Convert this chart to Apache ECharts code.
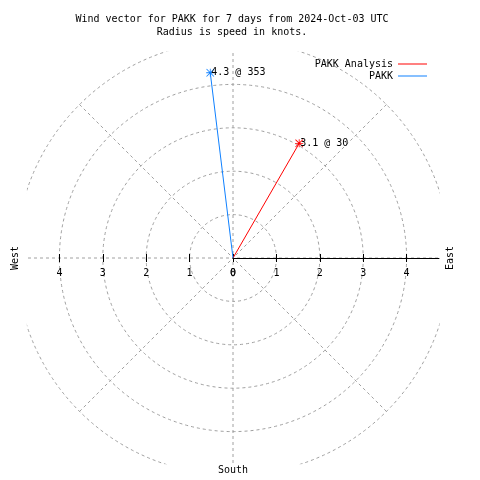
<!DOCTYPE html>
<html>
<head>
<meta charset="utf-8">
<script src="https://cdn.jsdelivr.net/npm/echarts@6/dist/echarts.min.js"></script>
<style>html,body{margin:0;padding:0;background:#fff}#c{width:480px;height:480px}</style>
</head>
<body>
<div id="c"></div>
<script>
// ---- data ----
const seriesNames = ['PAKK Analysis', 'PAKK'];
const speeds = [3.05, 4.3];          // knots
const directions = [30, 353];        // degrees, compass
const pointLabels = ['3.1 @ 30', '4.3 @ 353'];
const tickValues = [0, 1, 2, 3, 4];
const titleLines = ['Wind vector for PAKK for 7 days from 2024-Oct-03 UTC', 'Radius is speed in knots.'];
const compassNames = { west: 'West', east: 'East', south: 'South' };

// ---- style ----
const colors = ['#ff0000', '#0f80ff'];
const FONT = 'DejaVu Sans Mono';
const CX = 233, CY = 258, UNIT = 43.4;
const RMAX = 5, VIEW = 4.75;
const gridGray = '#a0a0a0';
const dash = [3, 3];
const starPath = 'path://M4.5 0L5.5 0L5.5 10L4.5 10Z M0 4.5L10 4.5L10 5.5L0 5.5Z M0 0.7L0.7 0L10 9.3L9.3 10Z M9.3 0L10 0.7L0.7 10L0 9.3Z';

const half = VIEW * UNIT;
const chart = echarts.init(document.getElementById('c'));

const series = seriesNames.map((name, i) => ({
  name: name,
  type: 'line',
  coordinateSystem: 'polar',
  z: 2,
  symbol: starPath,
  symbolSize: 8,
  showAllSymbol: true,
  animation: false,
  lineStyle: { color: colors[i], width: 1 },
  itemStyle: { color: colors[i] },
  data: [
    { value: [0, 0], symbol: 'none' },
    { value: [speeds[i], directions[i]],
      label: { show: true, position: 'right', distance: -3, formatter: pointLabels[i],
               color: '#000', fontFamily: FONT, fontSize: 10 } }
  ]
}));

function tickAxis(gridIndex, inverse, showLine, inside) {
  return {
    type: 'value', gridIndex: gridIndex, min: 0, max: VIEW, inverse: inverse,
    position: 'bottom',
    axisLine: { show: showLine, onZero: false, lineStyle: { color: '#000', width: 1 } },
    axisTick: { show: true, inside: inside, length: 4, customValues: tickValues, lineStyle: { color: '#000' } },
    axisLabel: { show: !inside, customValues: tickValues, margin: 10, color: '#000', fontFamily: FONT, fontSize: 10 },
    splitLine: { show: false }
  };
}

chart.setOption({
  animation: false,
  backgroundColor: '#fff',
  title: {
    text: titleLines.join('\n'),
    left: 232, top: 13, padding: 0, textAlign: 'center', z: 10,
    textStyle: { fontFamily: FONT, fontSize: 10, fontWeight: 'normal', lineHeight: 13, color: '#000' }
  },
  legend: {
    data: seriesNames,
    orient: 'vertical', align: 'right', right: 53, top: 58, padding: 0,
    itemWidth: 29, itemHeight: 1, itemGap: 0, icon: 'rect', z: 10,
    selectedMode: false,
    textStyle: { fontFamily: FONT, fontSize: 10, color: '#000', lineHeight: 12 }
  },
  polar: { center: [CX, CY], radius: RMAX * UNIT },
  angleAxis: {
    type: 'value', min: 0, max: 360, interval: 45, startAngle: 90, clockwise: true,
    axisLine: { show: false }, axisTick: { show: false }, axisLabel: { show: false },
    splitLine: { show: true, lineStyle: { color: gridGray, type: dash, width: 1 } }
  },
  radiusAxis: {
    type: 'value', min: 0, max: RMAX, interval: 1,
    axisLine: { show: false }, axisTick: { show: false }, axisLabel: { show: false },
    splitLine: { show: true, lineStyle: { color: gridGray, type: dash, width: 1 } }
  },
  grid: [
    { left: CX - half, width: half, top: CY - 50, height: 50 },
    { left: CX, width: half, top: CY - 50, height: 50 }
  ],
  xAxis: [
    tickAxis(0, true, false, false),
    tickAxis(0, true, false, true),
    tickAxis(1, false, true, false),
    tickAxis(1, false, false, true)
  ],
  yAxis: [
    { type: 'value', gridIndex: 0, show: false },
    { type: 'value', gridIndex: 1, show: false }
  ],
  series: series,
  graphic: [
    { type: 'rect', z: 5, silent: true, shape: { x: 0, y: 0, width: 480, height: CY - half }, style: { fill: '#fff' } },
    { type: 'rect', z: 5, silent: true, shape: { x: 0, y: CY + half, width: 480, height: 480 }, style: { fill: '#fff' } },
    { type: 'rect', z: 5, silent: true, shape: { x: 0, y: 0, width: CX - half, height: 480 }, style: { fill: '#fff' } },
    { type: 'rect', z: 5, silent: true, shape: { x: CX + half + 0.5, y: 0, width: 480, height: 480 }, style: { fill: '#fff' } },
    { type: 'text', z: 20, x: 15, y: CY, rotation: Math.PI / 2,
      style: { text: compassNames.west, fontFamily: FONT, fontSize: 10, fill: '#000', align: 'center', verticalAlign: 'middle' } },
    { type: 'text', z: 20, x: 450, y: CY, rotation: Math.PI / 2,
      style: { text: compassNames.east, fontFamily: FONT, fontSize: 10, fill: '#000', align: 'center', verticalAlign: 'middle' } },
    { type: 'text', z: 20, x: CX, y: 470,
      style: { text: compassNames.south, fontFamily: FONT, fontSize: 10, fill: '#000', align: 'center', verticalAlign: 'middle' } }
  ]
});
</script>
</body>
</html>
